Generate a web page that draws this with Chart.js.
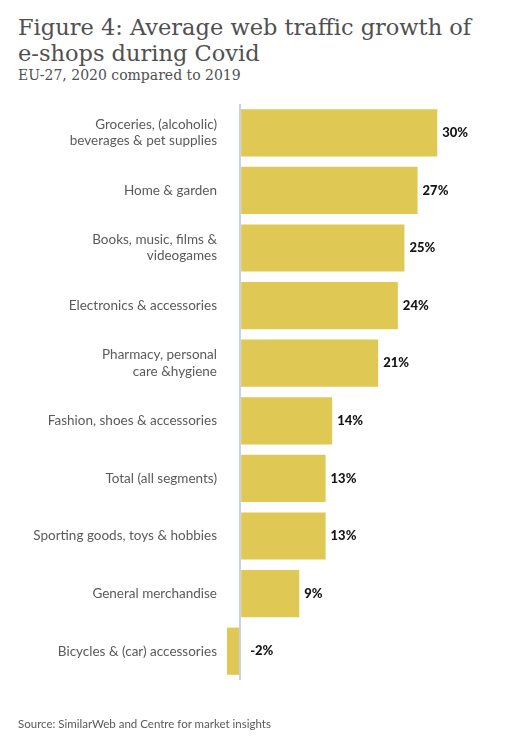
<!DOCTYPE html>
<html>
<head>
<meta charset="utf-8">
<script src="https://cdn.jsdelivr.net/npm/chart.js@4"></script>
<style>
  html, body { margin: 0; padding: 0; background: #fff; }
  body { width: 531px; height: 748px; position: relative; overflow: hidden; }
  .title { position: absolute; left: 18px; top: 14px; margin: 0; font-family: "DejaVu Serif", serif; font-weight: normal; font-size: 22.5px; line-height: 26px; color: #505050; }
  .subtitle { position: absolute; left: 18px; top: 67px; font-family: "DejaVu Serif", serif; font-size: 14px; color: #505050; }
  .source { position: absolute; left: 18px; top: 717px; font-family: Lato, sans-serif; font-size: 11.5px; color: #595959; }
  #chartWrap { position: absolute; left: 0; top: 0; width: 531px; height: 748px; }
</style>
</head>
<body>
<h1 class="title">Figure 4: Average web traffic growth of<br>e-shops during Covid</h1>
<div class="subtitle">EU-27, 2020 compared to 2019</div>
<div id="chartWrap"><canvas id="trafficChart"></canvas></div>
<div class="source">Source: SimilarWeb and Centre for market insights</div>

<script>
document.addEventListener("DOMContentLoaded", function () {
    /* ================= DATA ================= */
    const categories = [
        ['Groceries, (alcoholic)', 'beverages & pet supplies'],
        'Home & garden',
        ['Books, music, films &', 'videogames'],
        'Electronics & accessories',
        ['Pharmacy, personal', 'care &hygiene'],
        'Fashion, shoes & accessories',
        'Total (all segments)',
        'Sporting goods, toys & hobbies',
        'General merchandise',
        'Bicycles & (car) accessories'
    ];
    const growth = [30, 27, 25, 24, 21, 14, 13, 13, 9, -2];

    const barColor = '#e0c854';
    const axisColor = '#c8d3e6';

    // value labels at the end of each bar (negatives go right of the zero line)
    const valueLabels = {
        id: 'valueLabels',
        afterDatasetsDraw(chart) {
            const ctx = chart.ctx;
            const zeroX = chart.scales.x.getPixelForValue(0);
            const meta = chart.getDatasetMeta(0);
            ctx.save();
            ctx.font = '900 13px Lato, sans-serif';
            ctx.fillStyle = '#141414';
            ctx.textBaseline = 'middle';
            ctx.textAlign = 'left';
            meta.data.forEach((bar, i) => {
                const v = growth[i];
                const x = v >= 0 ? bar.x + 5 : zeroX + 10;
                ctx.fillText(v + '%', x, bar.y);
            });
            ctx.restore();
        }
    };

    new Chart(document.getElementById('trafficChart'), {
        type: 'bar',
        data: {
            labels: categories,
            datasets: [{
                data: growth,
                backgroundColor: barColor,
                borderWidth: 0,
                categoryPercentage: 1,
                barPercentage: 0.82
            }]
        },
        options: {
            indexAxis: 'y',
            responsive: true,
            maintainAspectRatio: false,
            animation: false,
            layout: {
                padding: { top: 104, bottom: 68, left: 0, right: 28 }
            },
            plugins: {
                legend: { display: false },
                tooltip: { enabled: false }
            },
            scales: {
                x: {
                    min: -2,
                    max: 40,
                    ticks: { display: false, stepSize: 2 },
                    border: { display: false },
                    grid: {
                        drawTicks: false,
                        lineWidth: 2,
                        color: c => (c.tick && c.tick.value === 0) ? axisColor : 'rgba(0,0,0,0)'
                    }
                },
                y: {
                    afterFit: scale => { scale.width = 227; },
                    border: { display: false },
                    grid: { display: false, drawTicks: false },
                    ticks: {
                        padding: 10,
                        color: '#5a5a5a',
                        font: { family: 'Lato, sans-serif', size: 13.5 }
                    }
                }
            }
        },
        plugins: [valueLabels]
    });
});
</script>
</body>
</html>
